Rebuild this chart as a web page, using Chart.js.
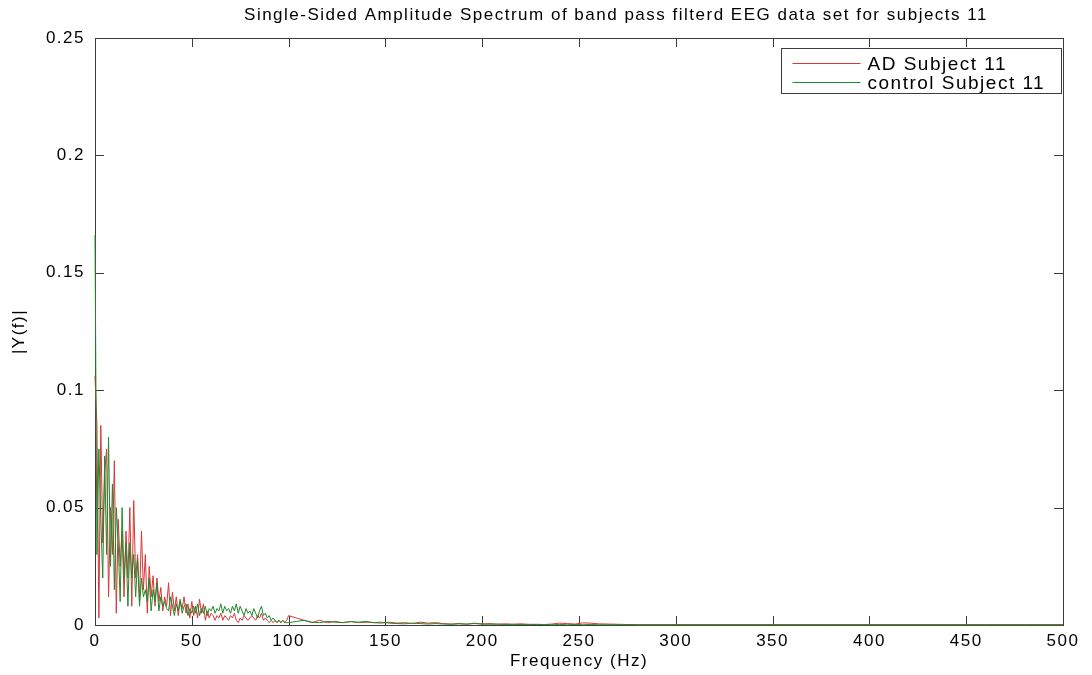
<!DOCTYPE html>
<html>
<head>
<meta charset="utf-8">
<script src="https://cdn.jsdelivr.net/npm/chart.js@4/dist/chart.umd.min.js"></script>
<style>
  html, body { margin: 0; padding: 0; background: #ffffff; }
  #wrap { width: 1092px; height: 675px; }
</style>
</head>
<body>
<div id="wrap"><canvas id="spectrum" width="1092" height="675"></canvas></div>
<script>
// Frequency bins (Hz) of the single-sided spectrum
const freqHz = [
  0,1,2,3,4,5,6,7,8,9,10,11,12,13,14,15,16,17,18,19,20,21,22,23,24,25,26,27,28,29,
  30,31,32,33,34,35,36,37,38,39,40,41,42,43,44,45,46,47,48,49,50,
  51,52,53,54,55,56,57,58,59,60,61,62,63,64,65,66,67,68,69,70,71,72,73,74,75,
  76,77,78,79,80,81,82,83,84,85,86,87,88,89,90,91,92,93,94,95,96,97,98,99,100,
  104,108,112,116,120,124,128,132,136,140,144,148,152,156,160,164,168,172,176,180,
  184,188,192,196,200,204,208,212,216,220,224,228,232,236,240,244,248,252,256,260,
  280,300,320,340,360,380,400,420,440,460,480,500
];

// |Y(f)| for the AD subject
const adSubject11 = [
  0.106,0.085,0.003,0.085,0.035,0.065,0.075,0.012,0.050,0.030,0.070,0.005,0.045,0.025,0.040,0.012,0.040,0.020,0.050,0.008,
  0.053,0.020,0.030,0.010,0.040,0.015,0.030,0.005,0.025,0.012,0.021,0.008,0.020,0.010,0.016,0.006,0.012,0.008,0.018,0.004,
  0.014,0.006,0.012,0.004,0.010,0.007,0.012,0.005,0.009,0.003,0.010,
  0.004,0.008,0.003,0.011,0.005,0.009,0.002,0.006,0.003,0.005,0.004,0.002,0.004,0.003,0.005,0.002,0.004,0.003,0.002,0.004,
  0.003,0.005,0.002,0.001,0.003,0.002,0.004,0.003,0.002,0.003,0.004,0.003,0.002,0.004,0.003,0.005,0.002,0.003,0.002,0.001,
  0.002,0.001,0.002,0.001,0.002,0.001,0.002,0.001,0.002,0.004,
  0.003,0.002,0.001,0.002,0.001,0.0015,0.001,0.0015,0.001,0.0012,0.001,0.0008,0.0012,0.0008,0.001,0.0006,0.0012,0.0008,0.001,0.0006,
  0.0004,0.0006,0.0003,0.0008,0.0004,0.0006,0.0003,0.0005,0.0003,0.0005,0.0002,0.0003,0.0002,0.0004,0.0008,0.0006,0.0004,0.0009,0.0008,0.0005,
  0.0001,0.0001,0.0001,0.0001,0.0001,0.0001,0.0001,0.0001,0.0001,0.0001,0.0001,0.0001
];

// |Y(f)| for the control subject
const controlSubject11 = [
  0.166,0.030,0.075,0.045,0.020,0.072,0.030,0.080,0.025,0.060,0.015,0.050,0.035,0.010,0.050,0.020,0.035,0.008,0.035,0.020,
  0.030,0.012,0.028,0.008,0.020,0.012,0.015,0.010,0.020,0.006,0.015,0.010,0.018,0.006,0.012,0.008,0.010,0.007,0.006,0.012,
  0.008,0.004,0.009,0.006,0.011,0.005,0.008,0.009,0.004,0.007,0.005,
  0.008,0.005,0.009,0.004,0.007,0.005,0.008,0.004,0.007,0.006,0.008,0.005,0.007,0.006,0.009,0.005,0.008,0.006,0.007,0.005,
  0.008,0.006,0.009,0.005,0.008,0.006,0.004,0.007,0.005,0.006,0.004,0.007,0.005,0.003,0.006,0.008,0.004,0.005,0.003,0.004,
  0.002,0.003,0.002,0.001,0.002,0.001,0.002,0.001,0.001,0.001,
  0.0015,0.002,0.0012,0.001,0.0015,0.0012,0.001,0.0014,0.0012,0.0015,0.001,0.0012,0.0008,0.0006,0.0005,0.0008,0.0006,0.0004,0.0006,0.0004,
  0.0003,0.0005,0.0004,0.0006,0.0004,0.0003,0.0004,0.0002,0.0003,0.0002,0.0003,0.0002,0.0002,0.0001,0.0002,0.0001,0.0002,0.0001,0.0002,0.0001,
  0.0001,0.0001,0.0001,0.0001,0.0001,0.0001,0.0001,0.0001,0.0001,0.0001,0.0001,0.0001
];

const seriesNames = ['AD Subject 11', 'control Subject 11'];
const chartTitle = 'Single-Sided Amplitude Spectrum of band pass filterd EEG data set for subjects 11';
const xTickValues = [0, 50, 100, 150, 200, 250, 300, 350, 400, 450, 500];
const yTickValues = [0, 0.05, 0.1, 0.15, 0.2, 0.25];

const FONT = '"Liberation Sans", Arial, sans-serif';
const AD_COLOR = '#d83636';
const CONTROL_COLOR = '#1f8a2a';
const FRAME_COLOR = '#3c3c3c';
const LETTER_SPACING = '1.5px';

const toPoints = vals => freqHz.map((f, i) => ({ x: f, y: vals[i] }));

// Slightly wider lettering for every label on the canvas
const spacingPlugin = {
  id: 'spacing',
  beforeUpdate(chart) { chart.ctx.letterSpacing = LETTER_SPACING; },
  beforeDraw(chart) { chart.ctx.letterSpacing = LETTER_SPACING; }
};

// Axes box with inward ticks on all four sides (drawn under the traces),
// then the heading and the legend box on top
const framePlugin = {
  id: 'frame',
  beforeDatasetsDraw(chart) {
    const { ctx, chartArea: a, scales } = chart;
    ctx.save();
    ctx.strokeStyle = FRAME_COLOR;
    ctx.lineWidth = 1;
    ctx.strokeRect(Math.round(a.left) + 0.5, Math.round(a.top) + 0.5,
                   Math.round(a.right - a.left), Math.round(a.bottom - a.top));
    const tl = 9;
    ctx.beginPath();
    xTickValues.forEach(v => {
      const px = Math.round(scales.x.getPixelForValue(v)) + 0.5;
      ctx.moveTo(px, a.bottom); ctx.lineTo(px, a.bottom - tl);
      ctx.moveTo(px, a.top); ctx.lineTo(px, a.top + tl);
    });
    yTickValues.forEach(v => {
      const py = Math.round(scales.y.getPixelForValue(v)) + 0.5;
      ctx.moveTo(a.left, py); ctx.lineTo(a.left + tl, py);
      ctx.moveTo(a.right, py); ctx.lineTo(a.right - tl, py);
    });
    ctx.stroke();
    ctx.restore();
  },
  afterDraw(chart) {
    const { ctx, chartArea: a } = chart;
    ctx.save();
    ctx.letterSpacing = LETTER_SPACING;
    // heading
    ctx.fillStyle = '#000000';
    ctx.font = '17px ' + FONT;
    ctx.textAlign = 'center';
    ctx.textBaseline = 'middle';
    ctx.fillText(chartTitle, 616, 15);
    // legend
    const boxW = 280, boxH = 45;
    const left = Math.round(a.right - 2 - boxW) + 0.5;
    const top = Math.round(a.top + 10) + 0.5;
    ctx.fillStyle = '#ffffff';
    ctx.fillRect(left, top, boxW, boxH);
    ctx.strokeStyle = FRAME_COLOR;
    ctx.lineWidth = 1;
    ctx.strokeRect(left, top, boxW, boxH);
    const colors = [AD_COLOR, CONTROL_COLOR];
    ctx.font = '19px ' + FONT;
    ctx.textAlign = 'left';
    seriesNames.forEach((name, i) => {
      const y = Math.round(top + 14 + i * 19) + 0.5;
      ctx.strokeStyle = colors[i];
      ctx.beginPath();
      ctx.moveTo(left + 11, y);
      ctx.lineTo(left + 79, y);
      ctx.stroke();
      ctx.fillStyle = '#000000';
      ctx.fillText(name, left + 86, y + 1);
    });
    ctx.restore();
  }
};

new Chart(document.getElementById('spectrum'), {
  type: 'line',
  data: {
    datasets: [
      { label: seriesNames[0], data: toPoints(adSubject11), borderColor: AD_COLOR,
        borderWidth: 1, pointRadius: 0, tension: 0, fill: false, clip: false, order: 2 },
      { label: seriesNames[1], data: toPoints(controlSubject11), borderColor: CONTROL_COLOR,
        borderWidth: 1, pointRadius: 0, tension: 0, fill: false, clip: false, order: 1 }
    ]
  },
  options: {
    responsive: false,
    animation: false,
    devicePixelRatio: 1,
    layout: { padding: { left: 0, right: 29, top: 38, bottom: 0 } },
    plugins: {
      legend: { display: false },
      tooltip: { enabled: false },
      title: { display: false }
    },
    scales: {
      x: {
        type: 'linear',
        min: 0, max: 500,
        afterBuildTicks(scale) { scale.ticks = xTickValues.map(v => ({ value: v })); },
        afterFit(scale) { scale.height = 50; },
        grid: { display: false, drawTicks: false },
        border: { display: false },
        ticks: { color: '#000000', font: { family: FONT, size: 17 }, padding: 6, maxRotation: 0,
                 callback: v => String(v) },
        title: { display: true, text: 'Frequency (Hz)', color: '#000000',
                 font: { family: FONT, size: 17 }, padding: { top: 0, bottom: 3 } }
      },
      y: {
        type: 'linear',
        min: 0, max: 0.25,
        afterBuildTicks(scale) { scale.ticks = yTickValues.map(v => ({ value: v })); },
        afterFit(scale) { scale.width = 95; },
        grid: { display: false, drawTicks: false },
        border: { display: false },
        ticks: { color: '#000000', font: { family: FONT, size: 17 }, padding: 10,
                 callback: v => String(Math.round(v * 100) / 100) },
        title: { display: true, text: '|Y(f)|', color: '#000000',
                 font: { family: FONT, size: 17 }, padding: { top: 9, bottom: 0 } }
      }
    }
  },
  plugins: [spacingPlugin, framePlugin]
});
</script>
</body>
</html>
